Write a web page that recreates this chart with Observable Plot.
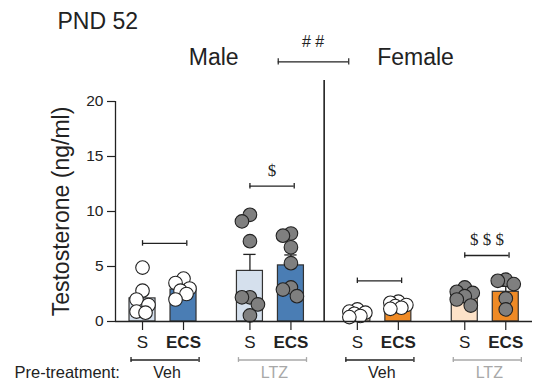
<!DOCTYPE html>
<html>
<head>
<meta charset="utf-8">
<script src="https://cdn.jsdelivr.net/npm/d3@7"></script>
<script src="https://cdn.jsdelivr.net/npm/@observablehq/plot@0.6"></script>
<style>
  html, body { margin: 0; padding: 0; background: #fff; }
  #chart svg { display: block; }
</style>
</head>
<body>
<div id="chart"></div>
<script>
// ---------- data ----------
const groups      = ["Male Veh", "Male LTZ", "Female Veh", "Female LTZ"];
const sexes       = ["Male", "Male", "Female", "Female"];
const pretreat    = ["Veh", "LTZ", "Veh", "LTZ"];
const treatments  = ["S", "ECS"];

// individual animals, per group: [S values], [ECS values]
const pointsS = [
  [4.9, 2.8, 2.0, 1.5, 0.9, 0.8],
  [9.7, 9.1, 7.3, 2.2, 2.2, 1.55, 0.55],
  [1.1, 0.9, 0.8, 0.7, 0.5, 0.4],
  [3.1, 2.7, 2.6, 2.3, 2.0, 1.45]
];
const pointsECS = [
  [3.9, 3.5, 3.0, 2.8, 2.5, 2.0],
  [8.0, 7.8, 6.75, 5.3, 3.1, 2.9, 2.3],
  [1.8, 1.7, 1.5, 1.4, 1.25, 1.15],
  [3.8, 3.7, 3.4, 2.1, 1.1]
];
// bar heights (mean) and SEM
const meanS   = [2.1, 4.6, 0.7, 2.3];
const meanECS = [2.9, 5.1, 1.4, 2.7];
const semS    = [0.7, 1.5, 0.15, 0.25];
const semECS  = [0.3, 0.95, 0.15, 0.5];
// within-group comparison brackets
const sigLevel = [7.1, 12.3, 3.7, 6.0];
const sigLabel = ["", "$", "", "$ $ $"];
const sexLabel = "# #";
const yTicks = [0, 5, 10, 15, 20];
const yLabel = "Testosterone (ng/ml)";
const title = "PND 52";

// ---------- styles ----------
const palette = {
  Male:   {S: "#d5e0ed", ECS: "#4a7db4"},
  Female: {S: "#fde2c8", ECS: "#ef8a25"}
};
const dotFill = {Veh: "#ffffff", LTZ: "#7f7f7f"};
const labelColor = {Veh: "#222222", LTZ: "#a8a8a8"};

// ---------- layout helpers ----------
const GAP = 2.62;           // slot distance between groups (S->S)
const HALF = 0.317;         // half bar width in slot units
const PX_X = 41, PX_Y = 11; // px per slot / per ng/ml (for dodging)
const slot = (g, i) => g * GAP + i;

const bars = [];
groups.forEach((name, g) => {
  treatments.forEach((t, i) => {
    bars.push({
      g, t, sex: sexes[g], pre: pretreat[g], x: slot(g, i),
      mean: i === 0 ? meanS[g] : meanECS[g],
      sem: i === 0 ? semS[g] : semECS[g],
      values: i === 0 ? pointsS[g] : pointsECS[g]
    });
  });
});

function dodge(values, cx) {
  const placed = [];
  const sorted = values.slice().sort((a, b) => b - a);
  const cand = [0, -6, 6, -8, 8, -3, 3];
  for (const v of sorted) {
    const py = v * PX_Y;
    let best = 0, bestD = -1;
    for (const c of cand) {
      let d = Infinity;
      for (const p of placed) d = Math.min(d, Math.hypot(p.px - c, p.py - py));
      if (d >= 10) { best = c; bestD = d; break; }
      if (d > bestD) { bestD = d; best = c; }
    }
    placed.push({px: best, py, v});
  }
  return placed.map(p => ({x: cx + p.px / PX_X, y: p.v}));
}

const dots = bars.flatMap(b => dodge(b.values, b.x).map(p => ({...p, pre: b.pre})));

const sig = groups.map((name, g) => ({
  g, y: sigLevel[g], x1: slot(g, 0), x2: slot(g, 1) + 0.08, label: sigLabel[g]
}));
const sigEnds = sig.flatMap(s => [{x: s.x1, y: s.y}, {x: s.x2, y: s.y}]);

const groupInfo = groups.map((name, g) => ({
  g, pre: pretreat[g], mid: (slot(g, 0) + slot(g, 1)) / 2
}));
const divider = (slot(1, 1) + slot(2, 0)) / 2;
const sexInfo = [
  {label: "Male", x: (slot(0, 0) + slot(1, 1)) / 2 - 3 / PX_X},
  {label: "Female", x: (slot(2, 0) + slot(3, 1)) / 2 - 16 / PX_X}
];

const BRACKET_Y = -3.5;    // bottom pre-treatment brackets (below axis)
const BR_HALF = 0.83;
const TOP_BR_Y = 23.6;
const DIV_TOP = 21.9;

const FONT = "Liberation Sans, Arial, sans-serif";
const SERIF = "Liberation Serif, Times New Roman, serif";

const chart = Plot.plot({
  width: 538,
  height: 382,
  marginLeft: 115,
  marginRight: 6,
  marginTop: 101,
  marginBottom: 61,
  style: {fontFamily: FONT, background: "#fff", color: "#222"},
  x: {type: "linear", domain: [-0.659, 9.512], axis: null},
  y: {domain: [0, 20], axis: null},
  marks: [
    // axes
    Plot.axisY({ticks: yTicks, tickSize: 8, tickPadding: 4, fontSize: 15.5, label: null, strokeWidth: 1.2}),
    Plot.ruleX([-0.659], {stroke: "#222", strokeWidth: 1.3}),
    Plot.axisX({ticks: bars.map(b => b.x), tickSize: 9, tickFormat: () => "", label: null, strokeWidth: 1.2}),
    // bars
    Plot.rectY(bars, {
      x1: d => d.x - HALF, x2: d => d.x + HALF, y: "mean",
      fill: d => palette[d.sex][d.t], stroke: "#333", strokeWidth: 1.2
    }),
    // error bars (upper half)
    Plot.ruleX(bars, {x: "x", y1: "mean", y2: d => d.mean + d.sem, stroke: "#222", strokeWidth: 1.3}),
    Plot.ruleY(bars, {y: d => d.mean + d.sem, x1: d => d.x - 0.15, x2: d => d.x + 0.15, stroke: "#222", strokeWidth: 1.3}),
    // individual points
    Plot.dot(dots, {x: "x", y: "y", r: 6.8, fill: d => dotFill[d.pre], stroke: "#222", strokeWidth: 1.1}),
    // baseline
    Plot.ruleY([0], {stroke: "#222", strokeWidth: 1.3}),
    // significance brackets
    Plot.ruleY(sig, {y: "y", x1: "x1", x2: "x2", stroke: "#222", strokeWidth: 1.3}),
    Plot.ruleX(sigEnds, {x: "x", y1: d => d.y - 0.25, y2: d => d.y + 0.25, stroke: "#222", strokeWidth: 1.3}),
    Plot.text(sig.filter(s => s.label), {
      x: d => (d.x1 + d.x2) / 2, y: "y", text: "label", dy: -16, lineAnchor: "middle",
      fontFamily: SERIF, fontSize: 17, fill: "#222"
    }),
    // divider between sexes
    Plot.ruleX([divider], {y1: 0, y2: DIV_TOP, stroke: "#111", strokeWidth: 1.5}),
    // sex labels and bracket
    Plot.text(sexInfo, {x: "x", text: "label", frameAnchor: "top", lineAnchor: "middle", dy: -44, fontSize: 23, fill: "#222"}),
    Plot.ruleY([TOP_BR_Y], {x1: divider - 1.12, x2: divider + 0.6, stroke: "#222", strokeWidth: 1.2}),
    Plot.ruleX([divider - 1.12, divider + 0.6], {y1: TOP_BR_Y - 0.28, y2: TOP_BR_Y + 0.28, stroke: "#222", strokeWidth: 1.2}),
    Plot.text([sexLabel], {x: () => divider - 11 / PX_X, text: d => d, frameAnchor: "top", lineAnchor: "middle", dy: -60, fontSize: 16, fill: "#222"}),
    // title
    Plot.text([title], {frameAnchor: "top-left", lineAnchor: "middle", dx: -58, dy: -80, fontSize: 23, fill: "#222"}),
    // y label
    Plot.text([yLabel], {frameAnchor: "left", lineAnchor: "middle", dx: -54, rotate: -90, textAnchor: "middle", fontSize: 23, fill: "#222"}),
    // treatment labels
    Plot.text(bars.filter(b => b.t === "S"), {x: "x", text: "t", frameAnchor: "bottom", lineAnchor: "middle", dy: 21, fontSize: 17, fill: "#222"}),
    Plot.text(bars.filter(b => b.t === "ECS"), {x: "x", text: "t", frameAnchor: "bottom", lineAnchor: "middle", dy: 21, fontSize: 17, fontWeight: "bold", fill: "#222"}),
    // pre-treatment brackets
    Plot.ruleY(groupInfo, {y: () => BRACKET_Y, x1: d => d.mid - BR_HALF + 0.05, x2: d => d.mid + BR_HALF + 0.05, stroke: d => labelColor[d.pre], strokeWidth: 1.3}),
    Plot.ruleX(groupInfo.flatMap(d => [{x: d.mid - BR_HALF + 0.05, pre: d.pre}, {x: d.mid + BR_HALF + 0.05, pre: d.pre}]),
      {x: "x", y1: BRACKET_Y - 0.22, y2: BRACKET_Y + 0.22, stroke: d => labelColor[d.pre], strokeWidth: 1.3}),
    Plot.text(groupInfo, {x: d => d.mid + 4 / PX_X, text: "pre", frameAnchor: "bottom", lineAnchor: "middle", dy: 51, fontSize: 16, fill: d => labelColor[d.pre]}),
    Plot.text(["Pre-treatment:"], {frameAnchor: "bottom-left", lineAnchor: "middle", dx: -101, dy: 51, fontSize: 16.5, fill: "#222"})
  ]
});
document.getElementById("chart").appendChild(chart);
</script>
</body>
</html>
